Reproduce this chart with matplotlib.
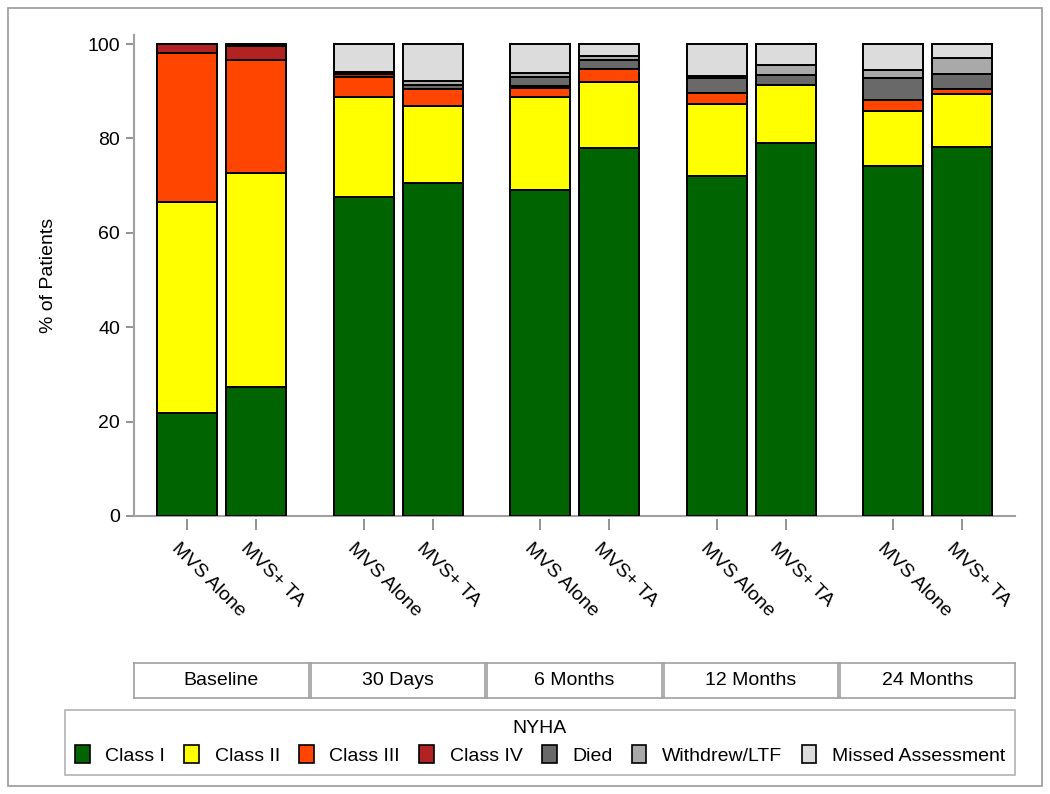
import numpy as np
import matplotlib.pyplot as plt
import matplotlib.transforms as mtrans
from matplotlib.patches import Patch, Rectangle

plt.rcParams['font.family'] = ['Liberation Sans', 'DejaVu Sans']

# time points and arms
timepoints = ['Baseline', '30 Days', '6 Months', '12 Months', '24 Months']
arms = ['MVS Alone', 'MVS+ TA']

# % of patients, order: (tp0 alone, tp0 TA, tp1 alone, tp1 TA, ...)
class_i = [21.8, 27.3, 67.6, 70.6, 69.1, 78.0, 72.0, 79.0, 74.2, 78.2]
class_ii = [44.7, 45.4, 21.2, 16.3, 19.7, 14.0, 15.3, 12.4, 11.7, 11.2]
class_iii = [31.6, 23.9, 4.3, 3.5, 1.8, 2.8, 2.4, 0.0, 2.2, 1.0]
class_iv = [1.9, 3.0, 0.5, 0.0, 0.5, 0.0, 0.0, 0.0, 0.0, 0.0]
died = [0.0, 0.4, 0.5, 0.9, 2.0, 1.8, 3.0, 2.0, 4.6, 3.2]
withdrew = [0.0, 0.0, 0.0, 0.8, 0.8, 0.9, 0.5, 2.2, 1.9, 3.4]
missed = [0.0, 0.0, 5.9, 7.9, 6.1, 2.5, 6.8, 4.4, 5.4, 3.0]

series = [class_i, class_ii, class_iii, class_iv, died, withdrew, missed]
names = ['Class I', 'Class II', 'Class III', 'Class IV', 'Died',
         'Withdrew/LTF', 'Missed Assessment']
colors = ['#006400', '#ffff00', '#ff4500', '#b22222', '#696969',
          '#a9a9a9', '#dcdcdc']

W, H = 1050, 794
fs = 14
fig = plt.figure(figsize=(W / 100, H / 100), dpi=100)

# outer frame
fig.patches.append(Rectangle((8 / W, 8 / H), 1 - 16 / W, 1 - 16 / H,
                             transform=fig.transFigure, fill=False,
                             edgecolor='#9a9a9a', lw=1.2))

axis_col = '#a0a0a0'
lefts = [134, 310.5, 487, 663.5, 840]
pw = 174.5
bottom_px, top_px = 516, 34.6

x = np.arange(len(arms))
shift = mtrans.ScaledTranslation(-7 / 100, -2 / 100, fig.dpi_scale_trans)
for g, tp in enumerate(timepoints):
    ax = fig.add_axes([lefts[g] / W, 1 - bottom_px / H, pw / W,
                       (bottom_px - top_px) / H])
    base = np.zeros(len(arms))
    for vals, c in zip(series, colors):
        v = np.array(vals[2 * g:2 * g + 2])
        ax.bar(x, v, 0.87, bottom=base, color=c, edgecolor='black',
               linewidth=1.4, zorder=3)
        base += v
    ax.set_xlim(-0.77, 1.76)
    ax.set_ylim(0, 102)
    for s in ['top', 'right']:
        ax.spines[s].set_visible(False)
    ax.spines['bottom'].set_position(('outward', 2))
    ax.spines['bottom'].set_visible(False)
    ax.axhline(0, color=axis_col, lw=1.5, zorder=2, clip_on=False)
    ax.set_xticks(x)
    ax.set_xticklabels(arms, rotation=-45, ha='left', va='top',
                       rotation_mode='anchor', fontsize=fs)
    ax.tick_params(axis='x', length=8, width=1.2, color='#808080', pad=6)
    for lab in ax.get_xticklabels():
        lab.set_transform(lab.get_transform() + shift)
    if g == 0:
        ax.spines['left'].set_color(axis_col)
        ax.spines['left'].set_linewidth(1.5)
        ax.set_yticks([0, 20, 40, 60, 80, 100])
        ax.tick_params(axis='y', length=6, width=1.2, color='#808080',
                       labelsize=fs, pad=4, direction='out')
        ax.set_ylabel('% of Patients', fontsize=fs, labelpad=22)
    else:
        ax.spines['left'].set_visible(False)
        ax.set_yticks([])

    # strip label box under the panel
    sax = fig.add_axes([lefts[g] / W, 1 - 698 / H, pw / W, 35 / H])
    sax.set_xticks([])
    sax.set_yticks([])
    for s in sax.spines.values():
        s.set_color('#a0a0a0')
        s.set_linewidth(1.2)
    sax.text(0.5, 0.5, tp, ha='center', va='center', fontsize=fs,
             transform=sax.transAxes)

handles = [Patch(facecolor=c, edgecolor='black', linewidth=1.2) for c in colors]
leg = fig.legend(handles, names, ncol=7, loc='center',
                 bbox_to_anchor=(540 / W, 1 - 742.5 / H), title='NYHA',
                 fontsize=fs, title_fontsize=fs, frameon=True,
                 fancybox=False, edgecolor='#a0a0a0', handlelength=0.75,
                 handleheight=1.0, handletextpad=0.8, columnspacing=1.0,
                 borderpad=0.5, labelspacing=0.2)
leg.get_frame().set_linewidth(1.2)
leg._legend_box.sep = 6

fig.savefig('out.png', dpi=100)
